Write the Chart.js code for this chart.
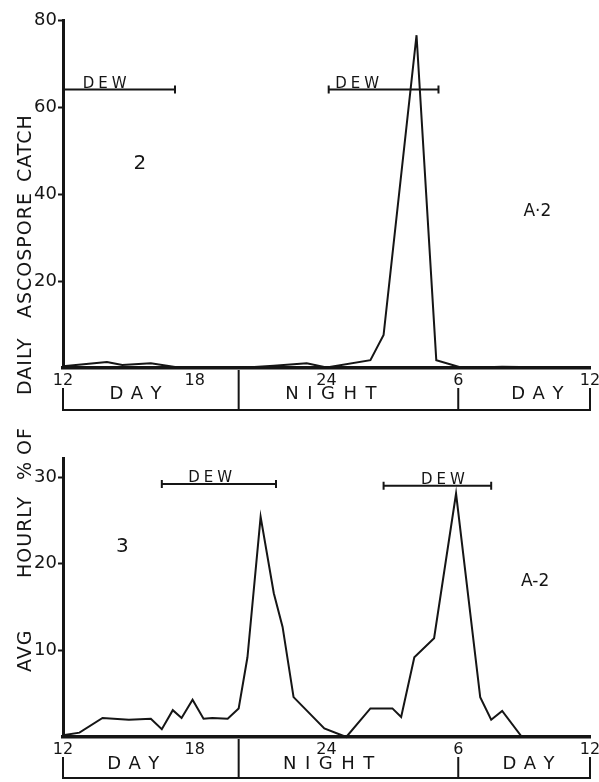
<!DOCTYPE html>
<html>
<head>
<meta charset="utf-8">
<script src="https://cdn.jsdelivr.net/npm/chart.js@4.4.0/dist/chart.umd.min.js"></script>
<style>
  html, body { margin: 0; padding: 0; background: #fff; }
  #page { position: relative; width: 599px; height: 782px; overflow: hidden; }
  .panel { position: absolute; left: 0; }
  #yTitle { position: absolute; left: 14px; top: 673px; width: 600px; height: 20px;
    transform-origin: 0 0; transform: rotate(-90deg);
    font: 19px "DejaVu Sans", sans-serif; line-height: 20px; color: #151515; letter-spacing: 1px; }
  #yTitle span { position: absolute; top: 0; white-space: nowrap; }
</style>
</head>
<body>
<div id="page">
  <div class="panel" style="top:0"><canvas id="topChart" width="599" height="415"></canvas></div>
  <div class="panel" style="top:415px"><canvas id="bottomChart" width="599" height="367"></canvas></div>
  <div id="yTitle"></div>
</div>
<script>
var ink = '#151515';

// shared x axis: hours from noon to noon next day
var xTickHours = [12, 18, 24, 30, 36];
var xTickLabels = ['12', '18', '24', '6', '12'];
var dayNightEdges = [12, 20, 30, 36];
var dayNightNames = ['DAY', 'NIGHT', 'DAY'];

// panel 2 - daily ascospore catch
var hoursTop = [12, 14, 14.7, 16, 17.4, 20, 21.6, 23.1, 24, 26, 26.6, 28.1, 29, 30.2, 32, 36];
var catchTop = [0.4, 1.4, 0.7, 1.1, 0, 0, 0.5, 1.1, 0.1, 1.8, 7.6, 76.5, 1.8, 0, 0.3, 0];
var yTicksTop = [20, 40, 60, 80];
var dewTopFrom = [12, 24.1];
var dewTopTo = [17.1, 29.1];
var dewTopLevel = [64, 64];
var dewTopTextAt = [13.9, 25.4];
var dayNightTextTop = [15.3, 24.2, 33.6];

// panel 3 - avg hourly % of daily catch
var hoursBottom = [12, 12.75, 13.8, 15, 16, 16.5, 17, 17.4, 17.9, 18.4, 18.8, 19.5, 20, 20.4, 21, 21.6, 22, 22.5,
                   23.9, 24.9, 26, 27, 27.4, 28, 28.9, 29.9, 31, 31.5, 32, 32.9, 36];
var pctBottom = [0.2, 0.5, 2.2, 2.0, 2.1, 0.9, 3.1, 2.2, 4.3, 2.1, 2.2, 2.1, 3.3, 9.2, 25.4, 16.6, 12.7, 4.6,
                 1.0, 0, 3.3, 3.3, 2.3, 9.2, 11.4, 28.1, 4.6, 2.0, 3.0, 0, 0];
var yTicksBottom = [10, 20, 30];
var dewBottomFrom = [16.5, 26.6];
var dewBottomTo = [21.7, 31.5];
var dewBottomLevel = [29.2, 29];
var dewBottomTextAt = [18.7, 29.3];
var dayNightTextBottom = [15.2, 24.1, 33.2];

var yTitleWords = ['AVG', 'HOURLY', '%', 'OF', 'DAILY', 'ASCOSPORE', 'CATCH'];
var yTitleOffsets = [1, 95, 193, 218, 278, 355, 491];

Chart.defaults.font.family = '"DejaVu Sans", sans-serif';
Chart.defaults.color = ink;

function spacedText(ctx, str, cx, y, gap){
  var total = 0;
  for(var i = 0; i < str.length; i++) total += ctx.measureText(str[i]).width;
  total += gap * (str.length - 1);
  var x = cx - total / 2;
  ctx.textAlign = 'left';
  for(var i = 0; i < str.length; i++){
    ctx.fillText(str[i], x, y);
    x += ctx.measureText(str[i]).width + gap;
  }
}

var panelDecor = {
  id: 'panelDecor',
  afterDraw: function(chart, args, o){
    var ctx = chart.ctx, xs = chart.scales.x, ys = chart.scales.y, area = chart.chartArea;
    ctx.save();
    ctx.strokeStyle = ink;
    ctx.fillStyle = ink;
    ctx.lineWidth = 2;
    ctx.lineCap = 'butt';

    // dew periods
    ctx.font = '15px "DejaVu Sans", sans-serif';
    ctx.textBaseline = 'alphabetic';
    for(var i = 0; i < o.dewFrom.length; i++){
      var x1 = xs.getPixelForValue(o.dewFrom[i]);
      var x2 = xs.getPixelForValue(o.dewTo[i]);
      var y = ys.getPixelForValue(o.dewLevel[i]);
      ctx.beginPath();
      ctx.moveTo(x1, y); ctx.lineTo(x2, y);
      if(o.dewFrom[i] > xs.min){ ctx.moveTo(x1, y - 4); ctx.lineTo(x1, y + 4); }
      ctx.moveTo(x2, y - 4); ctx.lineTo(x2, y + 4);
      ctx.stroke();
      spacedText(ctx, 'DEW', xs.getPixelForValue(o.dewTextAt[i]), y - 1.5, 4);
    }

    // panel number and station label
    ctx.textAlign = 'center';
    ctx.textBaseline = 'middle';
    ctx.font = '20px "DejaVu Sans", sans-serif';
    ctx.fillText(o.number, xs.getPixelForValue(o.numberAt[0]), ys.getPixelForValue(o.numberAt[1]));
    ctx.font = '17px "DejaVu Sans", sans-serif';
    ctx.fillText(o.station, xs.getPixelForValue(o.stationAt[0]), ys.getPixelForValue(o.stationAt[1]));

    // day / night strip under the axis
    var base = area.bottom;
    var stripBottom = Math.round(base + o.stripDepth);
    ctx.lineWidth = 2;
    ctx.beginPath();
    ctx.moveTo(xs.getPixelForValue(dayNightEdges[0]) - 1, stripBottom);
    ctx.lineTo(xs.getPixelForValue(dayNightEdges[dayNightEdges.length - 1]) + 1, stripBottom);
    for(var e = 0; e < dayNightEdges.length; e++){
      var ex = xs.getPixelForValue(dayNightEdges[e]);
      var startY = xTickHours.indexOf(dayNightEdges[e]) >= 0 ? base + 20 : base + 2;
      ctx.moveTo(ex, startY); ctx.lineTo(ex, stripBottom);
    }
    ctx.stroke();
    ctx.font = '18px "DejaVu Sans", sans-serif';
    ctx.textBaseline = 'middle';
    for(var s = 0; s < dayNightNames.length; s++){
      spacedText(ctx, dayNightNames[s], xs.getPixelForValue(o.dayNightTextAt[s]), base + o.textDrop, dayNightNames[s] === 'NIGHT' ? 8.5 : 7.5);
    }
    ctx.restore();
  }
};

function makePanel(canvasID, hours, vals, yMax, yTicks, padTop, xHeight, decor){
  var pts = [];
  for(var i = 0; i < hours.length; i++) pts.push({ x: hours[i], y: vals[i] });

  return new Chart(document.getElementById(canvasID), {
    type: 'line',
    data: { datasets: [{
      data: pts, borderColor: ink, borderWidth: 2, pointRadius: 0,
      tension: 0, fill: false, clip: false
    }]},
    plugins: [panelDecor],
    options: {
      responsive: false, animation: false, devicePixelRatio: 1,
      layout: { padding: { top: padTop, right: 9, left: 0, bottom: 0 } },
      scales: {
        x: {
          type: 'linear', min: 12, max: 36,
          afterBuildTicks: function(s){ s.ticks = xTickHours.map(function(v){ return { value: v } }) },
          afterFit: function(s){ s.height = xHeight; s.paddingLeft = 0; s.paddingRight = 0 },
          ticks: {
            font: { size: 16 }, padding: 3, maxRotation: 0, autoSkip: false,
            callback: function(v){ var k = xTickHours.indexOf(v); return k >= 0 ? xTickLabels[k] : '' }
          },
          grid: { drawOnChartArea: false, drawTicks: false },
          border: { display: true, color: ink, width: 3.5 }
        },
        y: {
          min: 0, max: yMax,
          afterBuildTicks: function(s){ s.ticks = yTicks.map(function(v){ return { value: v } }) },
          afterFit: function(s){ s.width = 63; s.paddingTop = 0; s.paddingBottom = 0 },
          ticks: { font: { size: 18 }, padding: 1 },
          grid: { drawOnChartArea: false, tickLength: 5, tickWidth: 2, color: ink },
          border: { display: true, color: ink, width: 3 }
        }
      },
      plugins: {
        legend: { display: false },
        tooltip: { enabled: false },
        panelDecor: decor
      }
    }
  });
}

makePanel('topChart', hoursTop, catchTop, 80, yTicksTop, 20, 47, {
  dewFrom: dewTopFrom, dewTo: dewTopTo, dewLevel: dewTopLevel, dewTextAt: dewTopTextAt,
  number: '2', numberAt: [15.5, 47], station: 'A\u00b72', stationAt: [33.6, 36],
  dayNightTextAt: dayNightTextTop, stripDepth: 42, textDrop: 26
});

makePanel('bottomChart', hoursBottom, pctBottom, 32.2, yTicksBottom, 43, 45, {
  dewFrom: dewBottomFrom, dewTo: dewBottomTo, dewLevel: dewBottomLevel, dewTextAt: dewBottomTextAt,
  number: '3', numberAt: [14.7, 21.9], station: 'A-2', stationAt: [33.5, 17.9],
  dayNightTextAt: dayNightTextBottom, stripDepth: 41, textDrop: 27
});

// vertical axis title spanning both panels
var yt = document.getElementById('yTitle');
for(var w = 0; w < yTitleWords.length; w++){
  var sp = document.createElement('span');
  sp.textContent = yTitleWords[w];
  sp.style.left = yTitleOffsets[w] + 'px';
  yt.appendChild(sp);
}
</script>
</body>
</html>
